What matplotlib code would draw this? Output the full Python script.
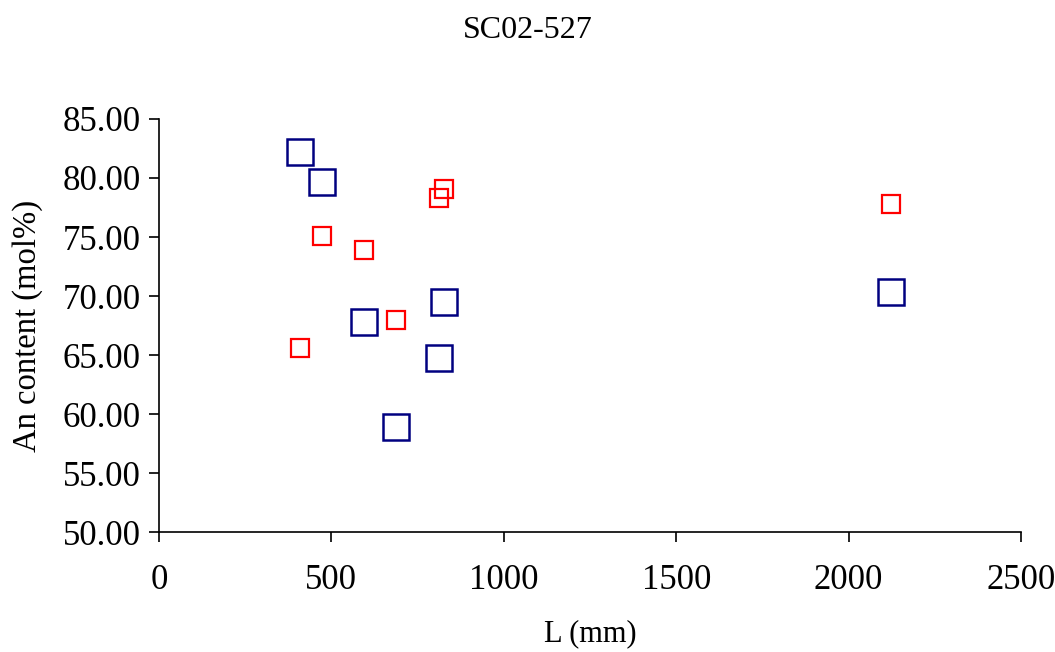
import matplotlib
matplotlib.use("Agg")
import matplotlib.pyplot as plt

# data
length_blue = [409, 473, 595, 687, 812, 827, 2123]
an_blue = [82.2, 79.65, 67.8, 58.9, 64.75, 69.5, 70.35]

length_red = [409, 473, 595, 687, 812, 827, 2123]
an_red = [65.6, 75.05, 73.9, 68.0, 78.3, 79.05, 77.8]

x_ticks = [0, 500, 1000, 1500, 2000, 2500]
y_ticks = [50, 55, 60, 65, 70, 75, 80, 85]

plt.rcParams["font.family"] = ["Liberation Serif", "DejaVu Serif"]

fig = plt.figure(figsize=(10.55, 6.52), dpi=100)
ax = fig.add_axes([0.1507, 0.184, 0.8171, 0.6335])

ax.plot(length_blue, an_blue, linestyle="none", marker="s", markersize=19,
        markerfacecolor="none", markeredgecolor="#000080", markeredgewidth=1.8)
ax.plot(length_red, an_red, linestyle="none", marker="s", markersize=13,
        markerfacecolor="none", markeredgecolor="#ff0000", markeredgewidth=1.6)

ax.set_xlim(0, 2500)
ax.set_ylim(50, 85)
ax.set_xticks(x_ticks)
ax.set_yticks(y_ticks)
ax.set_yticklabels([f"{v:.2f}" for v in y_ticks])
ax.tick_params(direction="out", length=7, width=1.2, labelsize=25, pad=6)
ax.tick_params(axis="x", pad=16)

for side in ["top", "right"]:
    ax.spines[side].set_visible(False)
for side in ["left", "bottom"]:
    ax.spines[side].set_linewidth(1.2)

ax.set_xlabel("L (mm)", fontsize=22, labelpad=16)
ax.set_ylabel("An content (mol%)", fontsize=23.5, labelpad=14)
fig.suptitle("SC02-527", fontsize=23, y=0.975)

fig.savefig("out.png", dpi=100)
